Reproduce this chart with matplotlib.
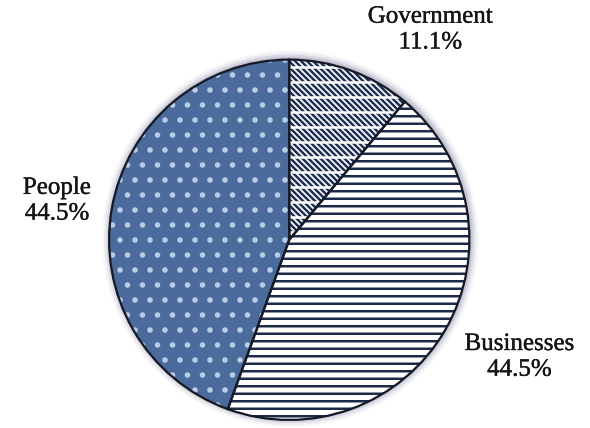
import matplotlib.pyplot as plt
import matplotlib.patheffects as pe
from matplotlib.patches import Circle

# Pie slices, clockwise from 12 o'clock
labels = ['Government', 'Businesses', 'People']
shares = [11.1, 44.5, 44.5]

# Look of each slice
face_colors = ['white', 'white', '#4a6b9b']
hatch_colors = ['#1f2f55', '#1c2a4a', '#b8cce8']
hatches = ['\\\\\\\\\\', '--', '.']

# Where the labels sit (x, y in pixels from top-left)
label_pos = [(430, 30), (519, 357), (57, 201)]

W, H = 590, 428
CX, CY, R = 289, 240, 180
DPI = 90  # hatch spacing scales with dpi; 90 gives the scan's line pitch

plt.rcParams['font.family'] = ['Liberation Serif', 'DejaVu Serif']
plt.rcParams['hatch.linewidth'] = 2.0

fig = plt.figure(figsize=((W + 0.5) / DPI, (H + 0.5) / DPI), dpi=DPI)
ax = fig.add_axes([0, 0, 1, 1])

# soft grey halo round the disc
for k, a in [(8, 0.08), (6, 0.14), (4, 0.22), (2, 0.35)]:
    ax.add_patch(Circle((CX + 1, H - CY + 1), R + k, color='#9c9cb6', alpha=a, lw=0))

# filled and hatched slices (hatch colour follows edge colour)
wedges, _ = ax.pie(shares, startangle=90, counterclock=False,
                   center=(CX, H - CY), radius=R, frame=True)
for w, fc, hc, h in zip(wedges, face_colors, hatch_colors, hatches):
    w.set_facecolor(fc)
    w.set_edgecolor(hc)
    w.set_hatch(h)
    w.set_linewidth(0)

# white rows break the government diagonals into short dashes
gaps, _ = ax.pie(shares[:1] + [100 - shares[0]], startangle=90, counterclock=False,
                 center=(CX, H - CY), radius=R, frame=True)
gaps[0].set_facecolor('none')
gaps[0].set_edgecolor('white')
gaps[0].set_hatch('-')
gaps[0].set_linewidth(0)
gaps[1].set_visible(False)

# dark outlines on top
ax.pie(shares, startangle=90, counterclock=False,
       center=(CX, H - CY), radius=R, frame=True,
       wedgeprops=dict(facecolor='none', edgecolor='#161a26', linewidth=1.8))

for lab, val, (x, y) in zip(labels, shares, label_pos):
    ax.text(x, H - y, f'{lab}\n{val}%', ha='center', va='center',
            fontsize=20, color='#151515', linespacing=1.22,
            path_effects=[pe.withStroke(linewidth=0.3, foreground='#151515')])

ax.set_xlim(0, W)
ax.set_ylim(0, H)
ax.set_aspect('equal')
ax.axis('off')

fig.savefig('out.png', dpi=DPI)
